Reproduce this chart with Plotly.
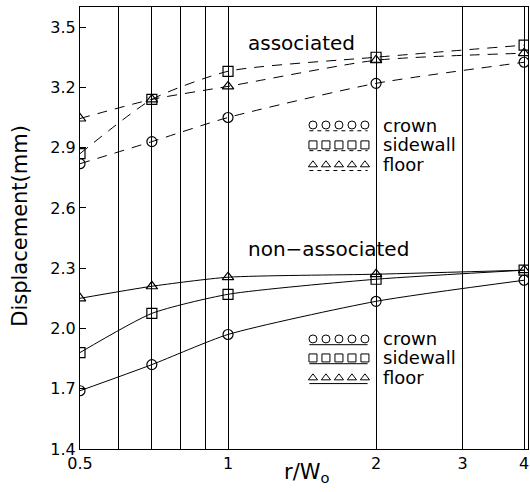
import plotly.graph_objects as go

# ---- data ----
r_w = [0.5, 0.7, 1, 2, 4]
assoc_crown = [2.82, 2.93, 3.05, 3.22, 3.325]
assoc_sidewall = [2.87, 3.14, 3.28, 3.35, 3.41]
assoc_floor = [3.045, 3.14, 3.205, 3.335, 3.37]
nonassoc_crown = [1.69, 1.82, 1.97, 2.135, 2.24]
nonassoc_sidewall = [1.88, 2.075, 2.17, 2.245, 2.29]
nonassoc_floor = [2.15, 2.21, 2.255, 2.27, 2.29]

x_ticks = [0.5, 1, 2, 3, 4]
x_ticktext = ["0.5", "1", "2", "3", "4"]
x_minor_grid = [0.6, 0.7, 0.8, 0.9]
y_ticks = [1.4, 1.7, 2.0, 2.3, 2.6, 2.9, 3.2, 3.5]
y_ticktext = ["1.4", "1.7", "2.0", "2.3", "2.6", "2.9", "3.2", "3.5"]

series_names = ["crown", "sidewall", "floor"]
symbols = ["circle-open", "square-open", "triangle-up-open"]

FONT = "DejaVu Sans"
fig = go.Figure()

groups = [
    ([assoc_crown, assoc_sidewall, assoc_floor], "dash"),
    ([nonassoc_crown, nonassoc_sidewall, nonassoc_floor], "solid"),
]
for vals_list, dash in groups:
    for vals, sym in zip(vals_list, symbols):
        fig.add_trace(go.Scatter(
            x=r_w, y=vals, mode="lines+markers",
            line=dict(color="black", width=1, dash="10px,8px" if dash == "dash" else "solid",
                      shape="spline", smoothing=0.6),
            marker=dict(symbol=sym, size=10, color="black", line=dict(width=1.2, color="black")),
            showlegend=False, hoverinfo="skip",
        ))

# ---- legend blocks (drawn on overlay axes spanning the plot area 0..1) ----
leg_x0, leg_dx = 0.520, 0.029
leg_blocks = [([0.733, 0.688, 0.643], "dash"), ([0.249, 0.206, 0.161], "solid")]
for ys, dash in leg_blocks:
    for yy, sym, name in zip(ys, symbols, series_names):
        xs = [leg_x0 + i * leg_dx for i in range(5)]
        fig.add_trace(go.Scatter(
            x=[xs[0] - 0.008, xs[-1] + 0.006], y=[yy - 0.013, yy - 0.013], mode="lines",
            line=dict(color="black", width=1, dash="4px,4px" if dash == "dash" else "solid"),
            xaxis="x2", yaxis="y2", showlegend=False, hoverinfo="skip"))
        fig.add_trace(go.Scatter(
            x=xs, y=[yy] * 5, mode="markers",
            marker=dict(symbol=sym, size=8, color="black", line=dict(width=1, color="black")),
            xaxis="x2", yaxis="y2", showlegend=False, hoverinfo="skip"))
        fig.add_annotation(x=0.672, y=yy, xref="x2", yref="y2", text=name, showarrow=False,
                           xanchor="left", yanchor="middle",
                           font=dict(family=FONT, size=18, color="black"))

fig.add_annotation(x=0.371, y=0.919, xref="paper", yref="paper", text="associated",
                   showarrow=False, xanchor="left", yanchor="middle",
                   font=dict(family=FONT, size=20, color="black"))
fig.add_annotation(x=0.371, y=0.452, xref="paper", yref="paper", text="non−associated",
                   showarrow=False, xanchor="left", yanchor="middle",
                   font=dict(family=FONT, size=20, color="black"))
fig.add_annotation(x=-0.134, y=0.505, xref="paper", yref="paper", text="Displacement(mm)",
                   showarrow=False, textangle=-90, xanchor="center", yanchor="middle",
                   font=dict(family=FONT, size=21, color="black"))
fig.add_annotation(x=0.505, y=-0.055, xref="paper", yref="paper", text="r/W<sub>o</sub>",
                   showarrow=False, xanchor="center", yanchor="middle",
                   font=dict(family=FONT, size=21, color="black"))

fig.update_layout(
    width=530, height=493,
    margin=dict(l=80, r=2, t=7, b=44, autoexpand=False),
    paper_bgcolor="white", plot_bgcolor="white",
    xaxis=dict(type="log", range=[-0.30103, 0.610], tickmode="array",
               tickvals=x_ticks, ticktext=x_ticktext, showgrid=True,
               gridcolor="black", gridwidth=1, showline=True, linecolor="black",
               linewidth=1.2, mirror=True, ticks="", zeroline=False, automargin=False,
               minor=dict(tickmode="array", tickvals=x_minor_grid, showgrid=True,
                          gridcolor="black", gridwidth=1, ticks=""),
               tickfont=dict(family=FONT, size=16, color="black")),
    yaxis=dict(range=[1.4, 3.6], tickmode="array", tickvals=y_ticks, ticktext=y_ticktext,
               showgrid=False, showline=True, linecolor="black", linewidth=1.2, mirror=True,
               ticks="inside", ticklen=6, tickcolor="black", zeroline=False, automargin=False,
               tickfont=dict(family=FONT, size=16, color="black")),
    xaxis2=dict(overlaying="x", range=[0, 1], visible=False, fixedrange=True),
    yaxis2=dict(overlaying="y", range=[0, 1], visible=False, fixedrange=True),
)

fig.write_html("out.html", config={"displayModeBar": False},
               post_script="document.body.style.margin='0px';document.body.style.overflow='hidden';")
